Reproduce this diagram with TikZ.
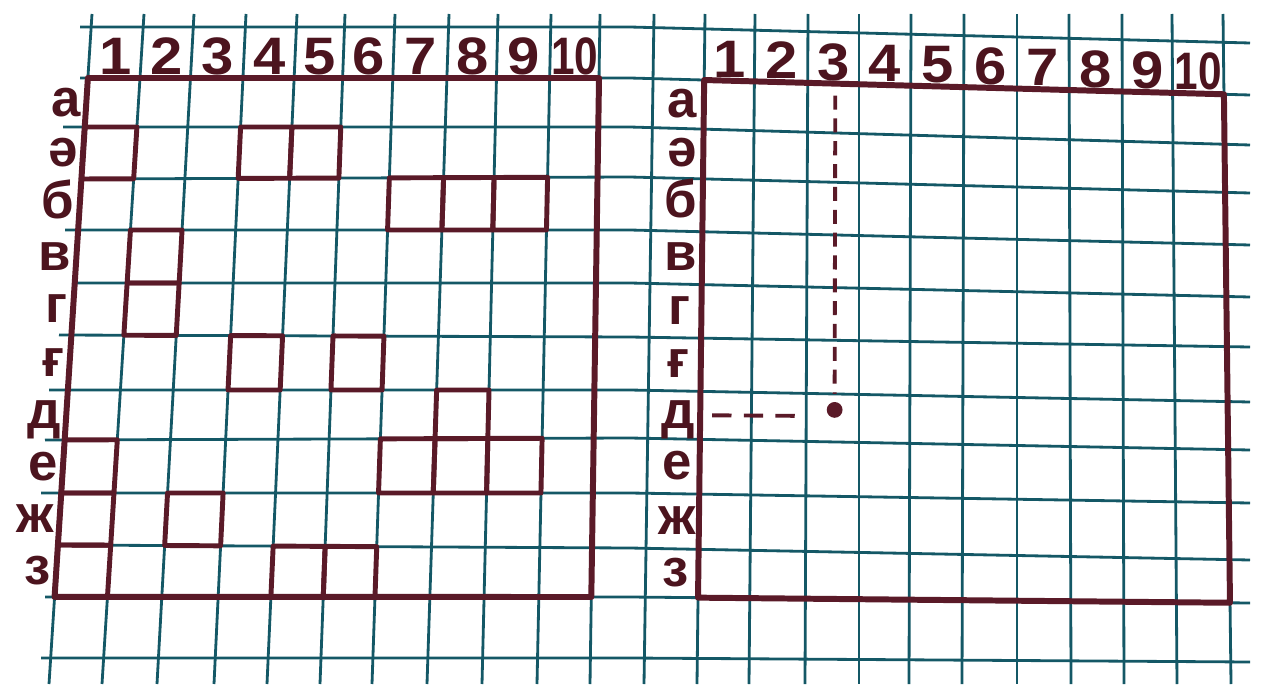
\documentclass[tikz,border=0pt]{standalone}
\usepackage{fontspec}
\setmainfont{Liberation Sans}
\usetikzlibrary{calc}
\definecolor{gridteal}{RGB}{20,88,102}
\definecolor{inkred}{RGB}{90,26,40}
\definecolor{labelred}{RGB}{76,20,30}

\begin{document}
\begin{tikzpicture}[x=0.02cm, y=-0.02cm,
		gridline/.style={draw=gridteal, line width=1.6pt},
		frame/.style={draw=inkred, line width=3.4pt, line join=round},
		ship/.style={draw=inkred, line width=2.8pt, line join=round},
		lbl/.style={text=labelred, font=\fontsize{30}{30}\selectfont\bfseries, inner sep=0pt},
		letter/.style={lbl, text height=15.5pt, text depth=0pt},
		num/.style={lbl, xscale=1.1},
		guide/.style={draw=inkred, line width=2.2pt, dash pattern={on 8pt off 5pt}},
		guideh/.style={draw=inkred, line width=2.2pt, dash pattern={on 11pt off 7pt}}]
	\useasboundingbox (0,0) rectangle (1264,686);
	% squared paper: vertical lines
	\foreach \kk/\xt/\xb in {0/92/49, 1/144/102, 2/194/157, 3/246/214, 4/297/267, 5/345/320,
			6/395/372, 7/449/427, 8/498/482, 9/551/537, 10/600/590, 11/654/644, 12/705/697,
			13/755/749, 14/808/805, 15/859/859, 16/911/909, 17/964/962, 18/1017/1017,
			19/1069/1071, 20/1122/1124, 21/1172/1177, 22/1223/1231} {
		\coordinate (v\kk t) at (\xt,14);
		\coordinate (v\kk b) at (\xb,684);
		\draw[gridline] (v\kk t) -- (v\kk b);
	}
	% squared paper: horizontal lines
	\foreach \rr/\xs/\yl/\ym/\yr in {0/80/27/27/43, 1/80/78/78/95, 2/63/127/127/145, 3/80/179/177/193,
			4/65/230/230/245, 5/73/283/283/297, 6/59/335/337/347, 7/49/390/390/402,
			8/45/440/438/450, 9/41/493/493/503, 10/65/545/548/560, 11/45/597/597/603,
			12/41/658/658/662} {
		\coordinate (h\rr l) at (\xs,\yl);
		\coordinate (h\rr m) at (630,\ym);
		\coordinate (h\rr r) at (1250,\yr);
		\draw[gridline] (h\rr l) -- (h\rr m) -- (h\rr r);
	}
	% corners of the squares
	\foreach \kk in {0,...,22} {
		\foreach \rr in {0,...,12} {
			\ifnum\kk<12
				\coordinate (c\kk-\rr) at (intersection of v\kk t--v\kk b and h\rr l--h\rr m);
			\else
				\coordinate (c\kk-\rr) at (intersection of v\kk t--v\kk b and h\rr m--h\rr r);
			\fi
		}
	}
	% ships on the left board (column/row)
	\foreach \cc/\ww in {1/2, 4/2, 5/2, 7/3, 8/3, 9/3, 2/4, 2/5, 4/6, 6/6, 8/7, 7/8, 8/8, 9/8,
			1/8, 1/9, 1/10, 3/9, 5/10, 6/10} {
		\pgfmathtruncatemacro\kl{\cc-1}
		\pgfmathtruncatemacro\wb{\ww+1}
		\draw[ship] (c\kl-\ww) -- (c\cc-\ww) -- (c\cc-\wb) -- (c\kl-\wb) -- cycle;
	}
	% boards
	\draw[frame] (c0-1) -- (c10-1) -- (c10-11) -- (c0-11) -- cycle;
	\draw[frame] (c12-1) -- (c22-1) -- (c22-11) -- (c12-11) -- cycle;
	% column numbers
	\foreach \nn in {1,...,9} {
		\pgfmathtruncatemacro\kl{\nn-1}
		\pgfmathtruncatemacro\kr{\nn+11}
		\pgfmathtruncatemacro\krr{\nn+12}
		\node[num] (ln\nn) at ($(c\kl-0)!.5!(c\nn-1)+(0,4)$) {\nn};
		\node[num] (rn\nn) at ($(c\kr-0)!.5!(c\krr-1)+(0,4)$) {\nn};
	}
	\node[num, xscale=0.73] (ln10) at ($(c9-0)!.5!(c10-1)+(0,4)$) {10};
	\node[num, xscale=0.73] (rn10) at ($(c21-0)!.5!(c22-1)+(0,4)$) {10};
	% row letters
	\foreach \tt [count=\ii] in {а,ә,б,в,г,ғ,д,е,ж,з} {
		\pgfmathtruncatemacro\wb{\ii+1}
		\node[letter, anchor=east] (la\ii) at ($(c0-\ii)!.5!(c0-\wb)+(-5,0)$) {\tt};
		\node[letter] (ra\ii) at ($(c11-\ii)!.5!(c12-\wb)+(4,0)$) {\tt};
	}
	% point 3-д on the right board
	\coordinate (dot) at ($(c14-7)!.5!(c15-8)+(2,-8)$);
	\draw[guide] ($(c14-1)!.5!(c15-1)+(2,12)$) -- ($(dot)+(0,-16)$);
	\draw[guideh] ($(c12-7)!.5!(c12-8)+(12,0)$) -- ($(dot)+(-30,6)$);
	\fill[inkred] (dot) circle[radius=4.5pt];
\end{tikzpicture}
\end{document}
